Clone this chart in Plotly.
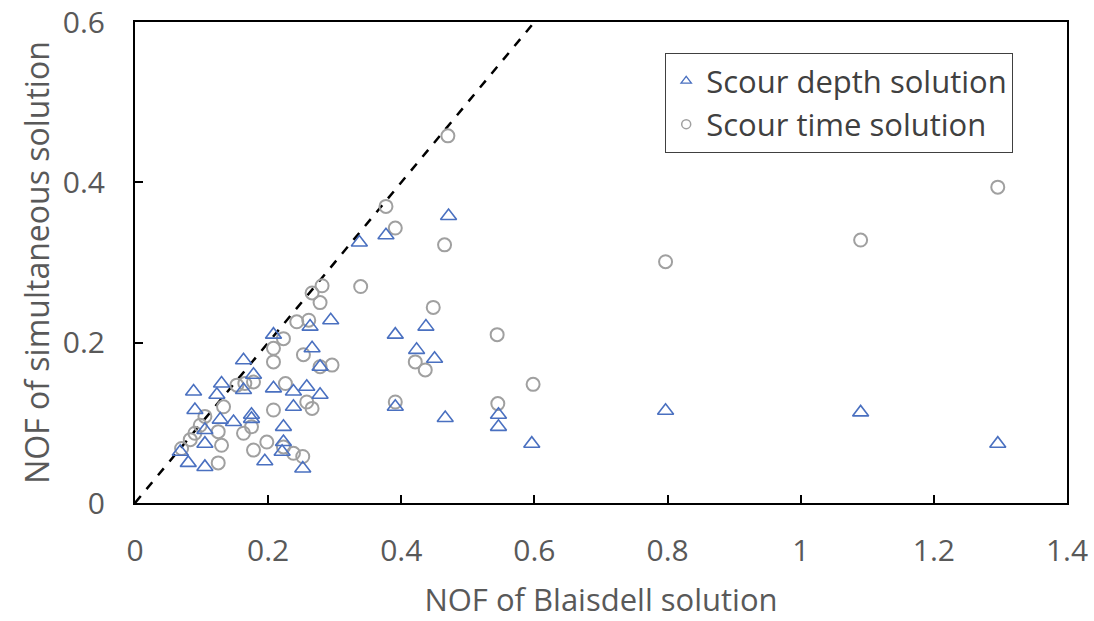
import plotly.graph_objects as go

# Scour depth solution (triangles)
depth_x = [0.068, 0.080, 0.088, 0.090, 0.105, 0.105, 0.105, 0.123, 0.130, 0.128,
           0.148, 0.163, 0.163, 0.175, 0.178, 0.195, 0.208, 0.208, 0.223, 0.223,
           0.221, 0.238, 0.238, 0.252, 0.258, 0.263, 0.266, 0.278, 0.278, 0.294,
           0.337, 0.377, 0.391, 0.391, 0.423, 0.437, 0.450, 0.466, 0.471, 0.546,
           0.546, 0.596, 0.797, 1.090, 1.296, 0.175]
depth_y = [0.064, 0.050, 0.139, 0.116, 0.091, 0.074, 0.045, 0.135, 0.149, 0.104,
           0.101, 0.178, 0.141, 0.110, 0.160, 0.052, 0.210, 0.143, 0.095, 0.076,
           0.064, 0.139, 0.120, 0.043, 0.145, 0.220, 0.193, 0.170, 0.135, 0.228,
           0.325, 0.334, 0.210, 0.120, 0.191, 0.220, 0.180, 0.106, 0.358, 0.110,
           0.095, 0.074, 0.115, 0.113, 0.074, 0.105]

# Scour time solution (circles)
time_x = [0.070, 0.083, 0.090, 0.098, 0.105, 0.125, 0.130, 0.125, 0.133, 0.153,
          0.165, 0.178, 0.163, 0.175, 0.178, 0.198, 0.208, 0.208, 0.208, 0.223,
          0.226, 0.223, 0.238, 0.252, 0.243, 0.261, 0.253, 0.258, 0.266, 0.266,
          0.281, 0.278, 0.278, 0.296, 0.339, 0.377, 0.391, 0.391, 0.421, 0.436,
          0.448, 0.465, 0.470, 0.544, 0.545, 0.598, 0.797, 1.090, 1.296]
time_y = [0.068, 0.079, 0.087, 0.097, 0.108, 0.089, 0.072, 0.050, 0.120, 0.147,
          0.149, 0.151, 0.087, 0.095, 0.066, 0.076, 0.193, 0.176, 0.116, 0.205,
          0.149, 0.070, 0.062, 0.058, 0.226, 0.228, 0.185, 0.126, 0.118, 0.262,
          0.271, 0.250, 0.170, 0.172, 0.270, 0.370, 0.343, 0.126, 0.176, 0.166,
          0.244, 0.322, 0.458, 0.210, 0.124, 0.148, 0.301, 0.328, 0.394]

# 1:1 reference line
diag_x = [0, 0.6]
diag_y = [0, 0.6]

x_ticks = [0, 0.2, 0.4, 0.6, 0.8, 1.0, 1.2, 1.4]
x_tick_labels = ["0", "0.2", "0.4", "0.6", "0.8", "1", "1.2", "1.4"]
y_ticks = [0, 0.2, 0.4, 0.6]
y_tick_labels = ["0", "0.2", "0.4", "0.6"]

BLUE = "#4a70c0"
GRAY = "#a0a0a0"
FONT = "Open Sans"
TXT = "#595959"

fig = go.Figure()

fig.add_trace(go.Scatter(x=diag_x, y=diag_y, mode="lines",
                         line=dict(color="black", width=2.5, dash="dash"),
                         showlegend=False, hoverinfo="skip"))

fig.add_trace(go.Scatter(x=time_x, y=time_y, mode="markers", showlegend=False,
                         marker=dict(symbol="circle-open", size=13, color=GRAY,
                                     line=dict(width=2, color=GRAY))))
fig.add_trace(go.Scatter(x=depth_x, y=depth_y, mode="markers", showlegend=False,
                         marker=dict(symbol="triangle-up-open", size=14, color=BLUE,
                                     line=dict(width=1.6, color=BLUE))))

# legend entries (smaller legend symbols)
fig.add_trace(go.Scatter(x=[None], y=[None], mode="markers", name="Scour depth solution",
                         legendgroup="a",
                         marker=dict(symbol="triangle-up-open", size=9, color=BLUE,
                                     line=dict(width=1.3, color=BLUE))))
fig.add_trace(go.Scatter(x=[None], y=[None], mode="markers", name="Scour time solution",
                         legendgroup="b",
                         marker=dict(symbol="circle-open", size=9, color=GRAY,
                                     line=dict(width=1.5, color=GRAY))))

fig.update_layout(
    width=1094, height=621,
    margin=dict(l=135, r=27, t=22, b=118),
    paper_bgcolor="white", plot_bgcolor="white",
    font=dict(family=FONT, color=TXT, size=22),
    legend=dict(x=(665 - 135) / 932, y=(503 - 53) / 481, xanchor="left", yanchor="top",
                bordercolor="#404040", borderwidth=1.2, bgcolor="white",
                font=dict(family=FONT, size=31, color="#404040"),
                tracegroupgap=0, itemwidth=30),
)

fig.update_xaxes(range=[0, 1.4], tickvals=x_ticks, ticktext=x_tick_labels,
                 showgrid=False, zeroline=False, showline=True, mirror=True,
                 linecolor="black", linewidth=2, ticks="inside", ticklen=8,
                 tickcolor="black", tickwidth=1.5, ticklabelstandoff=20,
                 automargin=False,
                 tickfont=dict(size=30, color=TXT, family=FONT),
                 title=dict(text="NOF of Blaisdell solution", standoff=20,
                            font=dict(size=31, color=TXT, family=FONT)))
fig.update_yaxes(range=[0, 0.6], tickvals=y_ticks, ticktext=y_tick_labels,
                 showgrid=False, zeroline=False, showline=True, mirror=True,
                 linecolor="black", linewidth=2, ticks="inside", ticklen=8,
                 tickcolor="black", tickwidth=1.5, ticklabelstandoff=22,
                 automargin=False,
                 tickfont=dict(size=30, color=TXT, family=FONT),
                 title=dict(text="NOF of simultaneous solution", standoff=4,
                            font=dict(size=32, color=TXT, family=FONT)))

fig.write_html("out.html")
